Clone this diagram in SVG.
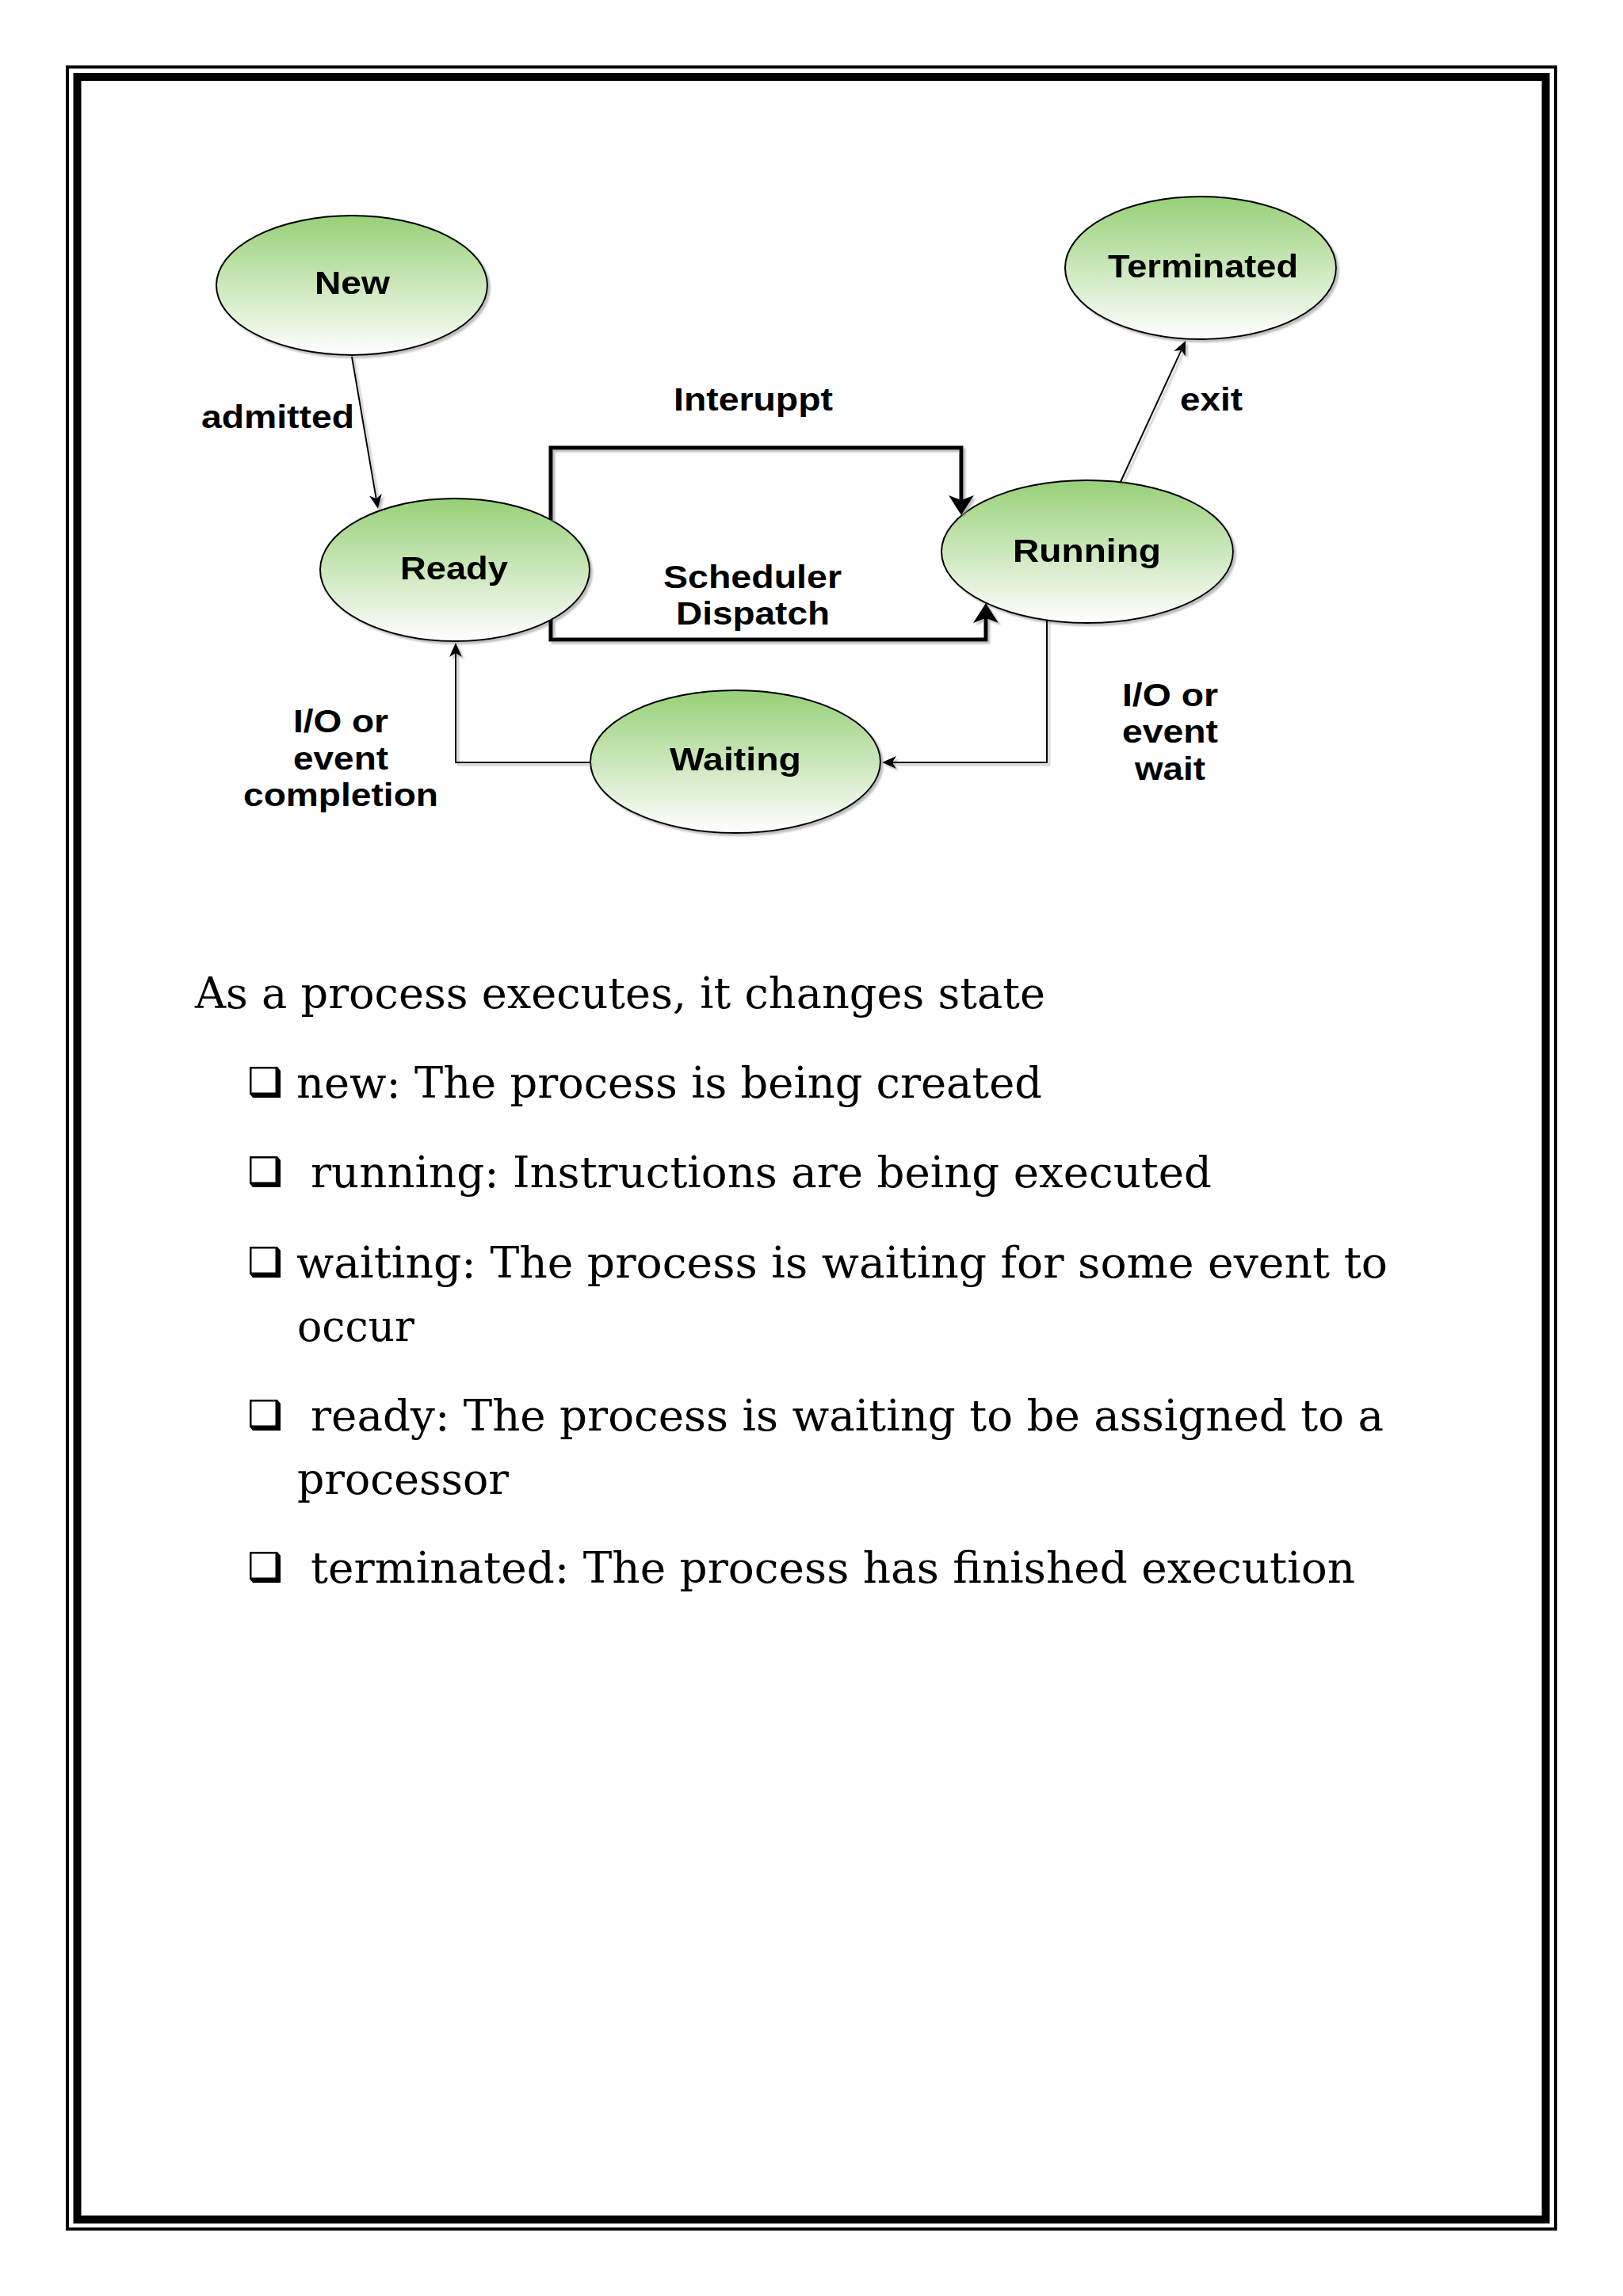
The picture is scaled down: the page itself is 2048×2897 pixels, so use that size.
<svg xmlns="http://www.w3.org/2000/svg" width="2048" height="2897" viewBox="0 0 2048 2897">
<defs>
<style>
.lbl{font-family:"Liberation Sans",Arial,sans-serif;font-weight:bold;font-size:40px;fill:#000}
.par{font-family:"DejaVu Serif","Liberation Serif",serif;font-size:54px;fill:#000}
.node{fill:url(#g);stroke:#000;stroke-width:2}
.thin{fill:none;stroke:#000;stroke-width:2}
.thick{fill:none;stroke:#000;stroke-width:5}
.cb{fill:#fff;stroke:#000;stroke-width:2.5}
</style>
<linearGradient id="g" x1="0" y1="0" x2="0" y2="1">
<stop offset="0" stop-color="#97d077"/>
<stop offset="1" stop-color="#ffffff"/>
</linearGradient>
<filter id="sh" filterUnits="userSpaceOnUse" x="0" y="0" width="2048" height="2897">
<feOffset in="SourceAlpha" dx="3" dy="3" result="o"/>
<feGaussianBlur in="o" stdDeviation="1" result="b"/>
<feFlood flood-color="#8c8c8c" flood-opacity="0.55"/>
<feComposite in2="b" operator="in" result="s"/>
<feMerge><feMergeNode in="s"/><feMergeNode in="SourceGraphic"/></feMerge>
</filter>
<marker id="a" markerUnits="userSpaceOnUse" markerWidth="20" markerHeight="16" refX="10" refY="8" orient="auto">
<path d="M0,0 L18,8 L0,16 L5,8 z" fill="#000"/>
</marker>
<marker id="A" markerUnits="userSpaceOnUse" markerWidth="28" markerHeight="32" refX="15" refY="16" orient="auto">
<path d="M0,0 L25,16 L0,32 L6,16 z" fill="#000"/>
</marker>
</defs>
<rect width="2048" height="2897" fill="#fff"/>
<g id="border" fill="none" stroke="#000">
<rect x="85" y="84.5" width="1878" height="2728" stroke-width="4"/>
<rect x="97.5" y="97" width="1853" height="2703.5" stroke-width="10"/>
</g>
<g id="node-new" filter="url(#sh)">
<ellipse class="node" cx="444" cy="360" rx="171" ry="88"/>
<text class="lbl" x="397" y="371" textLength="95" lengthAdjust="spacingAndGlyphs">New</text>
</g>
<g id="node-ready" filter="url(#sh)">
<ellipse class="node" cx="574" cy="719" rx="170" ry="90"/>
<text class="lbl" x="505" y="731" textLength="136" lengthAdjust="spacingAndGlyphs">Ready</text>
</g>
<g id="node-running" filter="url(#sh)">
<ellipse class="node" cx="1372" cy="696" rx="184" ry="90"/>
<text class="lbl" x="1278" y="709" textLength="187" lengthAdjust="spacingAndGlyphs">Running</text>
</g>
<g id="node-terminated" filter="url(#sh)">
<ellipse class="node" cx="1515" cy="338" rx="171" ry="90"/>
<text class="lbl" x="1398" y="350" textLength="240" lengthAdjust="spacingAndGlyphs">Terminated</text>
</g>
<g id="node-waiting" filter="url(#sh)">
<ellipse class="node" cx="928" cy="961" rx="183" ry="90"/>
<text class="lbl" x="845" y="972" textLength="166" lengthAdjust="spacingAndGlyphs">Waiting</text>
</g>
<g id="connectors" filter="url(#sh)">
<path class="thin" d="M444,450 L475.6,634.1" marker-end="url(#a)"/>
<path class="thick" d="M695,656 V565 H1213 V640" marker-end="url(#A)"/>
<path class="thick" d="M695,782 V807 H1244 V771" marker-end="url(#A)"/>
<path class="thin" d="M1414,608 L1492.7,437.3" marker-end="url(#a)"/>
<path class="thin" d="M1321,782 V962 H1121" marker-end="url(#a)"/>
<path class="thin" d="M745,962 H575 V819" marker-end="url(#a)"/>
</g>
<g id="edge-labels">
<text class="lbl" x="254" y="540" textLength="193" lengthAdjust="spacingAndGlyphs">admitted</text>
<text class="lbl" x="850" y="518" textLength="201" lengthAdjust="spacingAndGlyphs">Interuppt</text>
<text class="lbl" x="837" y="742" textLength="225" lengthAdjust="spacingAndGlyphs">Scheduler</text>
<text class="lbl" x="853" y="788" textLength="194" lengthAdjust="spacingAndGlyphs">Dispatch</text>
<text class="lbl" x="1489" y="518" textLength="79" lengthAdjust="spacingAndGlyphs">exit</text>
<text class="lbl" x="370" y="924" textLength="120" lengthAdjust="spacingAndGlyphs">I/O or</text>
<text class="lbl" x="370" y="971" textLength="120" lengthAdjust="spacingAndGlyphs">event</text>
<text class="lbl" x="307" y="1017" textLength="246" lengthAdjust="spacingAndGlyphs">completion</text>
<text class="lbl" x="1416" y="891" textLength="121" lengthAdjust="spacingAndGlyphs">I/O or</text>
<text class="lbl" x="1416" y="937" textLength="121" lengthAdjust="spacingAndGlyphs">event</text>
<text class="lbl" x="1432" y="984" textLength="89" lengthAdjust="spacingAndGlyphs">wait</text>
</g>
<g id="bullets">
<path d="M315,1380 L319,1385 H354 V1351 L350,1346 V1380 Z" fill="#000"/>
<rect class="cb" x="316.25" y="1347.25" width="32.5" height="32.5"/>
<path d="M315,1493 L319,1498 H354 V1464 L350,1459 V1493 Z" fill="#000"/>
<rect class="cb" x="316.25" y="1460.25" width="32.5" height="32.5"/>
<path d="M315,1607 L319,1612 H354 V1578 L350,1573 V1607 Z" fill="#000"/>
<rect class="cb" x="316.25" y="1574.25" width="32.5" height="32.5"/>
<path d="M315,1800 L319,1805 H354 V1771 L350,1766 V1800 Z" fill="#000"/>
<rect class="cb" x="316.25" y="1767.25" width="32.5" height="32.5"/>
<path d="M315,1992 L319,1997 H354 V1963 L350,1958 V1992 Z" fill="#000"/>
<rect class="cb" x="316.25" y="1959.25" width="32.5" height="32.5"/>
</g>
<g id="text">
<text class="par" x="246" y="1272" textLength="1073" lengthAdjust="spacingAndGlyphs">As a process executes, it changes state</text>
<text class="par" x="374" y="1385" textLength="941" lengthAdjust="spacingAndGlyphs">new: The process is being created</text>
<text class="par" x="392" y="1498" textLength="1137" lengthAdjust="spacingAndGlyphs">running: Instructions are being executed</text>
<text class="par" x="374" y="1612" textLength="1377" lengthAdjust="spacingAndGlyphs">waiting: The process is waiting for some event to</text>
<text class="par" x="375" y="1692" textLength="148" lengthAdjust="spacingAndGlyphs">occur</text>
<text class="par" x="392" y="1805" textLength="1354" lengthAdjust="spacingAndGlyphs">ready: The process is waiting to be assigned to a</text>
<text class="par" x="375" y="1885" textLength="267" lengthAdjust="spacingAndGlyphs">processor</text>
<text class="par" x="392" y="1997" textLength="1318" lengthAdjust="spacingAndGlyphs">terminated: The process has finished execution</text>
</g>
</svg>
